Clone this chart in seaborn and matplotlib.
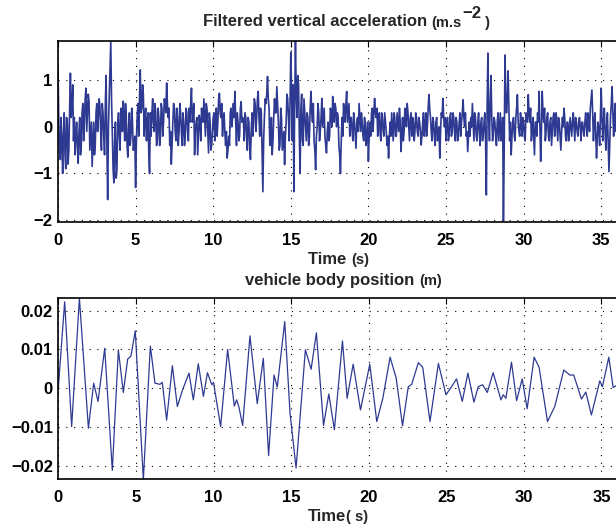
import numpy as np
import pandas as pd
import seaborn as sns
import matplotlib.pyplot as plt
from matplotlib.transforms import IdentityTransform

# filtered vertical acceleration, read every 0.1 s from 0 to 36 s (m/s^2)
acc = [
    1.25, -0.45, 0.2, -1.0, 0.3, -0.9, 0.1, -0.5, 1.15, 0.4,
    -0.3, -0.6, 0.1, -0.78, 0.2, -0.4, 0.5, 0.1, 0.83, 0.3,
    0.55, -0.2, -0.85, 0.1, -0.4, 0.5, 0.2, 0.45, -0.5, 0.3,
    -0.6, 1.1, -1.56, 0.6, 1.83, -0.2, -1.2, 0.1, -0.9, 0.3,
    -0.5, 0.3, 0.55, -0.3, 0.2, -0.65, 0.3, -0.2, 0.1, -0.4,
    -1.3, 0.2, -0.2, 1.22, 0.4, 0.7, 0.2, -0.3, 0.3, -1.0,
    -0.2, 0.6, -0.1, 0.3, -0.3, 0.2, -0.2, 0.4, 0.1, 0.5,
    0.94, 0.2, -0.4, -0.8, 0.1, 0.4, -0.3, 0.2, -0.1, 0.3,
    -0.4, 0.1, -0.2, 0.3, -0.3, 0.1, 0.83, 0.2, -0.6, 0.1,
    -0.6, 0.25, -0.3, 0.2, 0.6, -0.2, 0.4, -0.56, 0.1, -0.4,
    0.2, -0.3, 0.4, 0.1, 0.72, 0.2, -0.2, 0.3, -0.4, -0.67,
    -0.2, 0.3, 0.0, 0.5, 0.76, -0.4, 0.1, -0.2, 0.54, 0.2,
    -0.3, 0.2, -0.5, 0.1, -0.7, 0.3, 0.1, 0.5, 0.2, 0.76,
    -0.2, 0.3, -1.39, 0.2, 0.5, 1.08, 0.4, -0.3, -0.6, 0.2,
    0.3, 0.86, 0.1, -0.4, 0.2, -0.3, -0.81, 0.1, 0.6, -0.3,
    1.6, -0.3, -1.39, 1.83, 0.2, 0.9, -1.0, 0.7, -0.4, 0.3,
    -0.3, 0.2, -0.2, 0.76, 0.1, -0.3, -0.92, 0.0, 0.3, -0.1,
    0.61, 0.2, -0.2, -0.56, 0.1, -0.2, 0.3, 0.65, 0.1, 0.4,
    0.3, -0.4, -1.0, 0.2, 0.5, 0.1, 0.76, 0.3, -0.2, 0.2,
    -0.3, 0.1, -0.46, 0.2, 0.5, -0.1, 0.1, -0.3, 0.0, -0.2,
    -0.74, 0.1, 0.3, -0.1, 0.61, 0.2, -0.2, 0.3, -0.3, 0.2,
    -0.2, 0.1, -0.4, -0.67, 0.1, 0.3, -0.3, 0.2, -0.2, 0.1,
    0.4, -0.53, 0.2, -0.1, 0.3, 0.5, 0.0, 0.2, -0.2, 0.1,
    -0.1, 0.2, -0.2, 0.1, -0.39, 0.1, -0.2, 0.3, 0.0, 0.69,
    0.2, -0.3, 0.1, -0.4, 0.2, -0.2, -0.67, 0.3, 0.61, 0.0,
    -0.3, 0.2, -0.2, 0.3, -0.1, 0.2, -0.3, 0.1, -0.2, 0.3,
    0.1, 0.58, 0.0, -0.2, -0.53, 0.1, 0.2, 0.5, -0.3, 0.2,
    -0.3, 0.3, -0.4, 0.2, -0.2, 0.3, -1.46, 1.58, -0.3, 1.1,
    -0.3, 0.2, -0.2, 0.1, -0.3, 0.3, -0.2, -2.03, 1.54, 0.3,
    1.2, -0.3, -0.6, 0.1, -0.2, 0.2, 0.69, -0.1, 0.3, -0.2,
    0.1, -0.3, 0.2, 0.69, 0.1, -0.3, 0.2, -0.6, 0.1, 0.3,
    0.76, -0.74, 0.76, 0.1, -0.3, 0.2, -0.2, 0.1, -0.4, 0.2,
    -0.2, 0.3, -0.3, 0.1, -0.5, 0.2, 0.4, -0.2, 0.1, -0.3,
    0.2, -0.2, 0.3, -0.3, 0.1, -0.2, 0.2, -0.3, 0.1, -0.2,
    0.3, -0.2, 0.2, 0.4, 0.79, -0.3, 0.3, -0.67, 0.1, -0.4,
    0.83, -0.3, 0.4, -0.5, 0.3, -0.96, 0.2, 0.86, -0.2, 0.5,
    0.2,
]
# the in-between samples, at 0.05 s, 0.15 s, ... 35.95 s
acc_mid = [
    0.1, -0.7, -0.3, -0.2, -0.6, 0.2, -0.8, 0.4, 0.2, 0.9,
    0.2, -0.2, -0.4, -0.1, -0.6, 0.3, -0.3, 0.6, -0.1, 0.7,
    -0.5, 0.1, -0.4, -0.6, 0.3, -0.1, 0.6, -0.1, 0.5, -0.2,
    0.5, -0.4, 0.0, 1.2, 0.6, -0.9, -0.3, -1.1, 0.1, -0.2,
    0.4, -0.1, 0.2, 0.5, -0.4, 0.0, -0.4, 0.4, -0.5, -0.2,
    -0.3, 0.5, 0.6, 0.3, 0.9, -0.2, 0.4, 0.1, -0.6, 0.3,
    0.3, 0.1, 0.5, -0.4, 0.4, -0.4, 0.5, -0.2, 0.6, 0.3,
    0.5, 0.4, -0.1, -0.4, 0.5, -0.1, 0.4, -0.4, 0.5, -0.1,
    0.3, -0.4, 0.4, -0.1, 0.4, 0.5, 0.1, 0.5, -0.1, 0.2,
    -0.2, 0.1, 0.4, 0.1, 0.2, 0.5, -0.1, 0.3, -0.5, -0.1,
    0.3, 0.1, -0.2, 0.6, 0.3, 0.5, 0.2, -0.1, -0.1, -0.5,
    -0.4, 0.4, 0.2, 0.2, 0.1, 0.3, -0.3, 0.4, 0.1, 0.1,
    0.3, -0.2, 0.2, -0.4, -0.1, -0.2, 0.6, -0.1, 0.6, 0.2,
    0.4, -0.6, -0.3, 0.6, 0.7, 0.6, -0.4, 0.2, -0.3, 0.6,
    0.3, 0.5, -0.5, 0.4, -0.5, -0.1, -0.2, 0.7, 0.2, 0.5,
    0.8, 0.9, 0.5, 0.7, 1.1, -0.2, 0.4, -0.3, 0.6, 0.0,
    0.3, -0.4, 0.4, 0.3, 0.5, -0.5, -0.2, 0.5, -0.3, 0.2,
    0.0, 0.4, -0.4, -0.1, -0.3, 0.4, 0.0, 0.2, 0.5, 0.0,
    0.2, -0.6, -0.3, -0.2, 0.2, 0.5, 0.1, 0.5, 0.2, -0.1,
    0.3, -0.2, 0.1, -0.1, 0.2, 0.3, -0.2, 0.2, -0.4, 0.1,
    -0.2, -0.2, 0.4, 0.3, 0.3, 0.4, 0.2, -0.1, 0.3, -0.1,
    0.3, -0.1, -0.2, -0.2, -0.2, 0.0, 0.3, -0.2, 0.3, -0.1,
    0.1, -0.2, -0.3, 0.4, 0.0, 0.3, -0.3, 0.3, 0.2, -0.3,
    0.3, -0.1, 0.2, -0.1, -0.2, 0.3, 0.0, -0.2, 0.4, 0.4,
    -0.1, 0.2, -0.2, 0.1, -0.3, 0.0, -0.1, 0.2, 0.2, 0.2,
    0.1, -0.3, 0.2, -0.2, 0.3, -0.1, 0.2, -0.3, 0.1, -0.2,
    0.3, 0.2, 0.3, -0.1, -0.2, -0.2, 0.0, 0.1, 0.3, -0.2,
    0.1, -0.1, 0.1, -0.3, 0.1, -0.3, 0.4, 0.2, 0.5, 0.2,
    -0.1, 0.1, -0.4, 0.3, 0.0, -0.3, 0.2, -0.5, 0.7, 0.6,
    0.4, 0.1, -0.2, 0.2, -0.3, 0.4, 0.1, -0.2, 0.1, 0.2,
    -0.2, 0.3, 0.1, 0.3, 0.4, -0.1, -0.2, 0.1, -0.2, 0.1,
    0.0, -0.1, 0.3, 0.4, -0.1, 0.3, -0.3, 0.2, -0.1, 0.3,
    0.1, 0.0, 0.2, -0.2, -0.1, 0.0, 0.2, -0.3, 0.1, -0.1,
    0.0, 0.1, 0.0, 0.2, -0.1, 0.1, 0.0, 0.1, -0.1, 0.1,
    0.0, 0.3, -0.1, 0.6, 0.3, 0.1, -0.2, -0.2, -0.1, 0.2,
    0.2, 0.1, -0.1, 0.0, -0.3, -0.4, 0.5, 0.3, 0.2, -0.1,
]
acc_df = pd.DataFrame({
    "t": np.concatenate([np.arange(len(acc)) * 0.1, np.arange(len(acc_mid)) * 0.1 + 0.05]),
    "a": acc + acc_mid,
}).sort_values("t")

# vehicle body position, turning points (s, cm)
pos_time = [
    0.0, 0.41, 0.86, 1.36, 1.94, 2.28, 2.56, 2.99, 3.48, 3.87, 4.19, 4.47,
    4.68, 4.96, 5.48, 5.93, 6.23, 6.55, 6.70, 6.98, 7.35, 7.67, 8.01, 8.42,
    8.70, 9.02, 9.35, 9.61, 9.89, 10.0, 10.46, 10.91, 11.34, 11.49, 11.64,
    11.88, 12.35, 12.82, 13.21, 13.55, 13.9, 14.11, 14.59, 14.93, 15.32,
    15.92, 16.29, 16.63, 17.09, 17.43, 17.79, 18.31, 18.61, 19.0, 19.47,
    20.07, 20.52, 20.91, 21.38, 21.77, 22.18, 22.55, 22.77, 23.2, 23.48,
    23.95, 24.49, 24.98, 25.34, 25.66, 26.03, 26.39, 26.78, 27.06, 27.34,
    27.64, 28.02, 28.52, 28.67, 28.84, 29.2, 29.53, 29.89, 30.21, 30.66,
    30.98, 31.52, 31.99, 32.57, 32.96, 33.21, 33.71, 33.99, 34.35, 34.89,
    35.06, 35.47, 35.75, 35.92, 36.2,
]
pos_cm = [
    0.0, 2.23, -0.99, 2.32, -1.03, 0.13, -0.34, 1.03, -2.12, 0.99, -0.11, 0.75,
    0.83, 1.48, -2.36, 1.09, 0.13, 0.1, 0.15, -0.82, 0.58, -0.47, -0.04, 0.39,
    -0.3, 0.63, -0.21, 0.40, 0.09, 0.15, -0.99, 1.0, -0.46, -0.3, -0.49,
    -0.96, 1.35, -0.4, 0.77, -1.74, 0.34, 0.03, 1.72, -0.64, -2.06,
    0.99, 0.49, 1.43, -0.96, -0.15, -1.07, 1.22, -0.26, 0.62, -0.56,
    0.62, -0.86, -0.26, 0.8, 0.26, -0.97, 0.04, 0.1, 0.66, 0.54,
    -0.86, 0.64, -0.17, 0.04, 0.24, -0.34, 0.39, -0.36, 0.04, 0.09,
    -0.11, 0.4, -0.3, -0.17, -0.26, 0.67, -0.32, 0.24, -0.53, 0.8,
    0.54, -0.86, -0.47, 0.47, 0.34, 0.34, -0.28, -0.1, -0.69, 0.19,
    0.04, 0.8, 0.02, 0.06, 0.05,
]
pos_m = np.array(pos_cm) * 0.01

acc_ticks = [-2, -1, 0, 1]
pos_ticks = [-0.02, -0.01, 0, 0.01, 0.02]
pos_labels = ["\u22120.02", "\u22120.01", "0", "0.01", "0.02"]
time_ticks = [0, 5, 10, 15, 20, 25, 30, 35]

sns.set_style("white")
plt.rcParams["font.family"] = ["Liberation Sans", "DejaVu Sans"]
plt.rcParams["font.weight"] = "bold"

W, H = 616, 524
fig = plt.figure(figsize=(W / 100, H / 100), dpi=100)
line_col = "#2e3a92"
xmax = 37.1


def setup(ax):
    ax.set_xlim(0, xmax)
    ax.set_xticks(time_ticks)
    ax.grid(True, color="k", linestyle=(0, (1, 6)), linewidth=0.8)
    ax.tick_params(direction="in", length=4, width=0.8, top=True, right=True,
                   labelsize=12, colors="k")
    ax.tick_params(axis="x", pad=8)
    ax.tick_params(axis="y", pad=4)
    for s in ax.spines.values():
        s.set_color("k")
        s.set_linewidth(1.2)
    ax.set_xlabel("")
    ax.set_ylabel("")


ax1 = fig.add_axes([58 / W, 1 - 222 / H, xmax * 15.52 / W, 181 / H])
sns.lineplot(data=acc_df, x="t", y="a", ax=ax1, color=line_col, linewidth=1.2)
setup(ax1)
ax1.set_ylim(-2.04, 1.84)
ax1.set_yticks(acc_ticks)

ax2 = fig.add_axes([58.3 / W, 1 - 479.3 / H, xmax * 15.52 / W, 181 / H])
sns.lineplot(x=pos_time, y=pos_m, ax=ax2, color=line_col, linewidth=0.9)
setup(ax2)
ax2.set_ylim(-0.0235, 0.0232)
ax2.set_yticks(pos_ticks)
ax2.set_yticklabels(pos_labels)


def rich_text(x_left, y_base, pieces):
    # pieces of (text, size, rise in px), laid out left to right in pixels
    fig.canvas.draw()
    r = fig.canvas.get_renderer()
    x = x_left
    for s, size, rise in pieces:
        t = fig.text(x, H - y_base + rise, s, fontsize=size, fontweight="bold",
                     transform=IdentityTransform(), va="baseline", ha="left")
        x += t.get_window_extent(r).width


rich_text(203, 26.5, [("Filtered vertical acceleration ", 12, 0), ("(m.s", 10.5, 0),
                      ("\u22122", 12, 8), (" )", 10.5, 0)])
rich_text(308, 264, [("Time ", 12, 0), ("(s)", 10.5, 0)])
rich_text(245, 285, [("vehicle body position ", 12, 0), ("(m)", 10.5, 0)])
rich_text(308, 521, [("Time", 12, 0), ("( s)", 10.5, 0)])

fig.savefig("out.png", dpi=100)
